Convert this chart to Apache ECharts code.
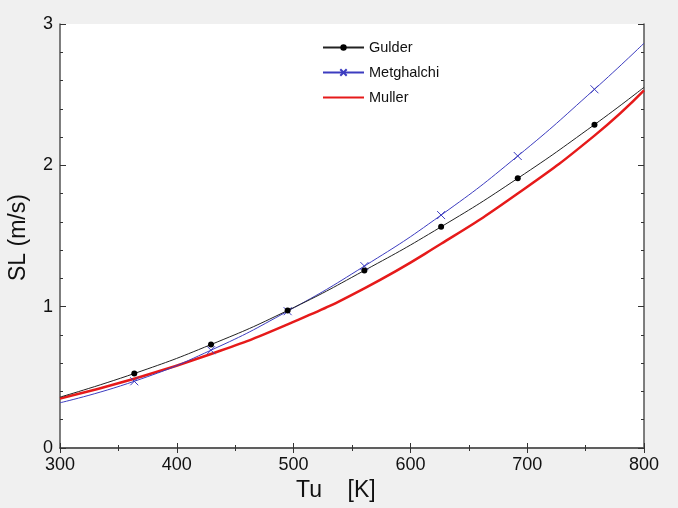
<!DOCTYPE html>
<html>
<head>
<meta charset="utf-8">
<script src="https://cdn.jsdelivr.net/npm/echarts@6/dist/echarts.min.js"></script>
<style>
html,body{margin:0;padding:0;background:#f0f0f0;}
#c{width:678px;height:508px;}
</style>
</head>
<body>
<div id="c"></div>
<script>
// Tu values [K]: endpoints + marker positions
var tu = [300, 363.6, 429.3, 494.9, 560.6, 626.3, 691.9, 757.6, 800];
var gulder = [0.36, 0.527, 0.732, 0.973, 1.256, 1.565, 1.908, 2.288, 2.552];
var metghalchi = [0.32, 0.472, 0.692, 0.968, 1.287, 1.648, 2.066, 2.538, 2.864];
var muller = [0.35, 0.49, 0.665, 0.875, 1.13, 1.445, 1.80, 2.21, 2.53];
var xTicks = [300, 400, 500, 600, 700, 800];
var yTicks = [0, 1, 2, 3];

var FONT = 'Arial, "Liberation Sans", sans-serif';

function withMarkers(ys) {
  return tu.map(function (x, i) {
    var item = { value: [x, ys[i]] };
    if (i === 0 || i === tu.length - 1) item.symbol = 'none';
    return item;
  });
}

var chart = echarts.init(document.getElementById('c'), null, { renderer: 'canvas' });

var axisLine = { show: true, lineStyle: { color: '#555', width: 1.5 } };
function xAx(pos, showLabel) {
  return {
    type: 'value', position: pos, min: xTicks[0], max: xTicks[xTicks.length - 1], interval: 100,
    axisLine: axisLine,
    axisTick: { show: true, inside: true, length: 5, lineStyle: { color: '#333' } },
    minorTick: { show: true, splitNumber: 2, length: 3, lineStyle: { color: '#333' } },
    splitLine: { show: false },
    axisLabel: { show: showLabel, fontSize: 18, color: '#111', fontFamily: FONT, margin: 8 }
  };
}
function yAx(pos, showLabel) {
  return {
    type: 'value', position: pos, min: yTicks[0], max: yTicks[yTicks.length - 1], interval: 1,
    axisLine: axisLine,
    axisTick: { show: true, inside: true, length: 6, lineStyle: { color: '#333' } },
    minorTick: { show: true, splitNumber: 5, length: 3, lineStyle: { color: '#333' } },
    splitLine: { show: false },
    axisLabel: { show: showLabel, fontSize: 18, color: '#111', fontFamily: FONT, margin: 7 }
  };
}

chart.setOption({
  animation: false,
  backgroundColor: '#f0f0f0',
  grid: { left: 60, right: 34, top: 24, bottom: 60, show: true, backgroundColor: '#fff', borderWidth: 0 },
  xAxis: [xAx('bottom', true), xAx('top', false)],
  yAxis: [yAx('left', true), yAx('right', false)],
  legend: {
    orient: 'vertical', left: 317, top: 35, itemWidth: 41, itemHeight: 8, itemGap: 10,
    textStyle: { fontSize: 14.5, color: '#111', fontFamily: FONT },
    data: [
      { name: 'Gulder' },
      { name: 'Metghalchi' },
      { name: 'Muller', itemStyle: { opacity: 0 } }
    ]
  },
  graphic: [
    { type: 'text', top: 479, left: 296, style: { text: 'Tu    [K]', font: '23px ' + FONT, fill: '#111' } },
    { type: 'text', rotation: Math.PI / 2, x: 7, y: 281, style: { text: 'SL (m/s)', font: '23px ' + FONT, fill: '#111' } }
  ],
  series: [
    {
      name: 'Gulder', type: 'line', smooth: true, data: withMarkers(gulder),
      symbol: 'circle', symbolSize: 6, showAllSymbol: true,
      lineStyle: { color: '#222', width: 1 }, itemStyle: { color: '#000' }, z: 3
    },
    {
      name: 'Metghalchi', type: 'line', smooth: true, data: withMarkers(metghalchi),
      symbol: 'path://M0,0L10,10M10,0L0,10', symbolSize: 8, showAllSymbol: true,
      lineStyle: { color: '#3c3cc0', width: 1 },
      itemStyle: { color: '#3c3cc0', borderColor: '#3c3cc0', borderWidth: 1 }, z: 2
    },
    {
      name: 'Muller', type: 'line', smooth: true,
      data: tu.map(function (x, i) { return [x, muller[i]]; }),
      symbol: 'none', lineStyle: { color: '#e61a1a', width: 2.5 }, itemStyle: { color: '#e61a1a' }, z: 1
    }
  ]
});
</script>
</body>
</html>
